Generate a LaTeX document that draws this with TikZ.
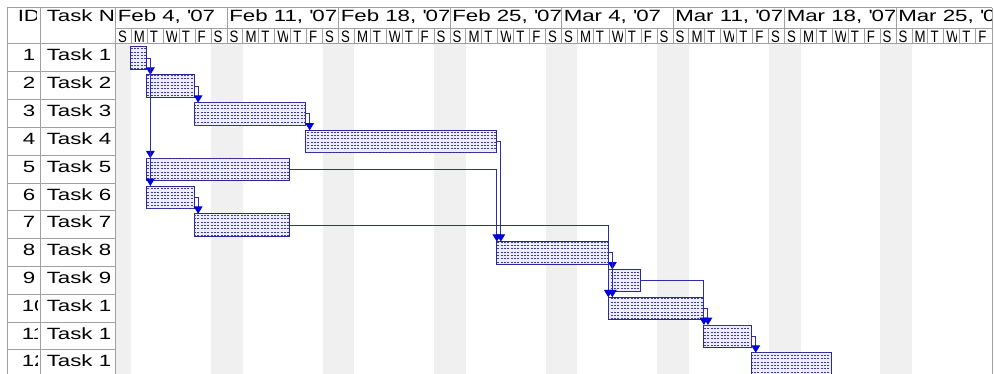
\documentclass[tikz,border=0pt]{standalone}
\usepackage{fontspec}
\setmainfont{Liberation Sans}[FakeStretch=1.37]
\newfontfamily\dayfont{Liberation Sans}[FakeStretch=0.8]
\usepackage{tikz}
\usetikzlibrary{arrows.meta,patterns}
\definecolor{gridgray}{RGB}{160,160,160}
\definecolor{weekend}{RGB}{240,240,240}
\definecolor{barblue}{RGB}{40,40,150}
\definecolor{barfill}{RGB}{236,236,250}
\definecolor{linkblue}{RGB}{45,45,165}
\definecolor{tipblue}{RGB}{0,0,215}
\pgfdeclarepatternformonly{taskdash}{\pgfqpoint{-0.1pt}{-0.1pt}}{\pgfqpoint{2.6pt}{2.6pt}}{\pgfqpoint{2.5pt}{2.5pt}}{%
    \pgfpathrectangle{\pgfqpoint{0.4pt}{0.9pt}}{\pgfqpoint{1.5pt}{0.75pt}}\pgfusepath{fill}}
\tikzset{%
    rule/.style={draw=gridgray, line width=0.75pt},
    cell/.style={inner sep=0pt, font=\fontsize{12.2}{14}\selectfont},
    day/.style={inner sep=0pt, font=\dayfont\fontsize{12.4}{14}\selectfont},
    bar/.style={%
        draw=barblue, line width=0.75pt, fill=barfill, inner sep=0pt, outer sep=0pt,
        minimum height=16.9pt, anchor=north west,
        postaction={pattern=taskdash, pattern color=barblue!90}},
    link/.style={draw=linkblue, line width=0.75pt,
        -{Triangle[width=6.5pt,length=5.5pt,color=tipblue]}}
}

\begin{document}
\begin{tikzpicture}[x=0.75pt, y=-0.75pt]
    \useasboundingbox (0,0) rectangle (994,374);
    \fill[weekend] (115.5,44) rectangle (131.4,374);
    \foreach \k in {1,...,7}
    {
    \fill[weekend] ({115.5+15.93*(7*\k-1)},44) rectangle ++(31.86,330);
    }
    \draw[rule] (7,8) -- (992,8);
    \draw[rule] (7,44) -- (992,44);
    \draw[rule] (115.5,29) -- (992,29);
    \foreach \x in {7,40,115.5,992}
    {
    \draw[rule] (\x,8) -- (\x,374);
    }
    \foreach \k in {1,...,7}
    {
    \draw[rule] ({115.5+111.5*\k},8) -- ++(0,21);
    }
    \foreach \dn in {1,...,54}
    {
    \draw[rule] ({115.5+15.93*\dn},29) -- ++(0,15);
    }
    \foreach \i in {1,...,11}
    {
    \draw[rule] (7,{44+27.8*\i}) -- (115.5,{44+27.8*\i});
    }
    \begin{scope}
    \clip (7,8) rectangle (36.5,44);
    \node[cell, anchor=base west] (idhead) at (17.5,21.5) {ID};
    \end{scope}
    \begin{scope}
    \clip (40,8) rectangle (112.5,44);
    \node[cell, anchor=base west] (namehead) at (46.5,21.5) {Task Name};
    \end{scope}
    \foreach \k/\wk in {0/{Feb 4, \textquotesingle07},1/{Feb 11, \textquotesingle07},
        2/{Feb 18, \textquotesingle07},3/{Feb 25, \textquotesingle07},4/{Mar 4, \textquotesingle07},
        5/{Mar 11, \textquotesingle07},6/{Mar 18, \textquotesingle07},7/{Mar 25, \textquotesingle07}}
    {
    \begin{scope}
    \clip ({115.5+111.5*\k},8) rectangle ({min(114+111.5*(\k+1),991)},29);
    \node[cell, anchor=base west] (week\k) at ({117.5+111.5*\k},21.5) {\wk};
    \end{scope}
    }
    \foreach \w in {0,...,7}
    \foreach \j/\l in {0/S,1/M,2/T,3/W,4/T,5/F,6/S}
    {
    \pgfmathtruncatemacro{\dn}{7*\w+\j}
    \ifnum\dn<55
    \begin{scope}
    \clip ({115.5+15.93*\dn},29) rectangle ({115.5+15.93*\dn+12.8},44);
    \node[day, anchor=base west] (day\dn) at ({117.8+15.93*\dn},42.8) {\l};
    \end{scope}
    \fi
    }
    \foreach \i in {1,...,12}
    {
    \begin{scope}
    \clip (7,{44+27.8*(\i-1)}) rectangle (37,{44+27.8*\i});
    \ifnum\i<10
    \node[cell, anchor=base east] (id\i) at (35.5,{61+27.8*(\i-1)}) {\i};
    \else
    \node[cell, anchor=base west] (id\i) at (21.5,{61+27.8*(\i-1)}) {\i};
    \fi
    \end{scope}
    \begin{scope}
    \clip (40,{44+27.8*(\i-1)}) rectangle (110.5,{44+27.8*\i});
    \node[cell, anchor=base west] (name\i) at (46.5,{61+27.8*(\i-1)}) {Task \i};
    \end{scope}
    }
    \foreach \i/\s/\len in {1/1/1,2/2/3,3/5/7,4/12/12,5/2/9,6/2/3,7/5/6,8/24/7,9/31/2,10/31/6,11/37/3,12/40/5}
    {
    \node[bar, minimum width=\len*11.9475pt] (t\i) at ({114.5+15.93*\s},{47+27.8*(\i-1)}) {};
    }
    \foreach \a/\b in {1/2,1/5,1/6,2/3,3/4,4/8,6/7,8/9,8/10,10/11,11/12}
    {
    \draw[link] (t\a.east) -| ([xshift=3pt]t\a.east |- t\b.north);
    }
    \draw[link] (t5.east) -| (t8.north west);
    \draw[link] (t7.east) -| (t10.north west);
    \draw[link] (t9.east) -| (t11.north west);
\end{tikzpicture}
\end{document}
